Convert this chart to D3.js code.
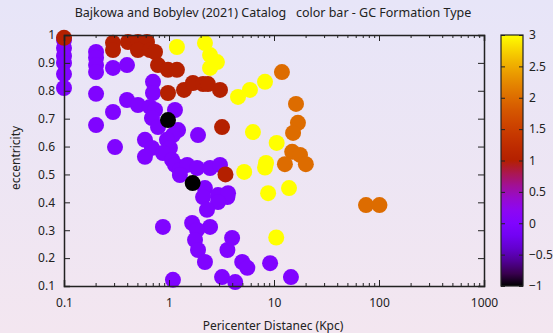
<!DOCTYPE html>
<html>
<head>
<meta charset="utf-8">
<script src="https://cdn.jsdelivr.net/npm/d3@7"></script>
<style>
  body { margin: 0; }
  svg { display: block; font-family: "Noto Sans", sans-serif; }
</style>
</head>
<body>
<div id="chart"></div>
<script>
let width = 553;
let height = 333;
let margin = {top: 35, right: 69, bottom: 47, left: 64};
let radius = 8;

// [pericenter (Kpc), eccentricity] by GC formation type
let type_m1 = [[0.978, 0.695], [1.68, 0.469]];
let type_0 = [
  [0.1, 0.982], [0.1, 0.953], [0.1, 0.925], [0.1, 0.9], [0.1, 0.86], [0.1, 0.81],
  [0.202, 0.939], [0.202, 0.918], [0.202, 0.892], [0.202, 0.867], [0.202, 0.789], [0.202, 0.677],
  [0.293, 0.882], [0.398, 0.892], [0.398, 0.767], [0.506, 0.749], [0.293, 0.724],
  [0.704, 0.832], [0.704, 0.792], [0.658, 0.742], [0.736, 0.731], [1.14, 0.731],
  [0.688, 0.702], [0.786, 0.670], [1.22, 0.659], [1.09, 0.641], [0.956, 0.624],
  [0.59, 0.624], [1.89, 0.641], [0.688, 0.595], [1.02, 0.595], [0.306, 0.598],
  [0.59, 0.563], [0.876, 0.577], [1.07, 0.552], [1.14, 0.534], [1.27, 0.516],
  [1.49, 0.534], [1.85, 0.523], [2.46, 0.523], [3.06, 0.534], [1.27, 0.498],
  [2.2, 0.451], [2.11, 0.419], [2.93, 0.426], [3.6, 0.419], [3.65, 0.433],
  [2.93, 0.401], [2.3, 0.373], [2.46, 0.312], [1.66, 0.326], [1.85, 0.301],
  [1.77, 0.265], [1.89, 0.229], [2.2, 0.186], [0.876, 0.312], [1.09, 0.122],
  [3.2, 0.132], [4.27, 0.114], [3.6, 0.229], [3.99, 0.272], [4.98, 0.186],
  [5.57, 0.165], [9.18, 0.182], [14.5, 0.132]
];
let type_1 = [
  [0.1, 0.99], [0.293, 0.972], [0.293, 0.946], [0.407, 0.975], [0.506, 0.975],
  [0.617, 0.975], [0.506, 0.946], [0.658, 0.946], [0.736, 0.939], [0.786, 0.892],
  [0.978, 0.875], [1.19, 0.875], [0.978, 0.792], [1.39, 0.803], [1.69, 0.828],
  [2.11, 0.824], [2.35, 0.824], [3.06, 0.803], [3.2, 0.67], [3.45, 0.5]
];
let type_2 = [
  [11.9, 0.867], [16.2, 0.753], [16.9, 0.685], [15.2, 0.649], [14.9, 0.581],
  [17.7, 0.57], [12.7, 0.537], [20.1, 0.537], [75.2, 0.39], [101, 0.39]
];
let type_3 = [
  [1.19, 0.957], [2.2, 0.971], [2.46, 0.928], [2.86, 0.903], [2.46, 0.882],
  [4.54, 0.778], [5.9, 0.803], [8.21, 0.832], [6.3, 0.652], [10.6, 0.613],
  [5.2, 0.509], [8.4, 0.541], [8.21, 0.525], [8.79, 0.433], [13.9, 0.451], [10.5, 0.274]
];
let series = [
  {type: 0, points: type_0},
  {type: 1, points: type_1},
  {type: 3, points: type_3},
  {type: 2, points: type_2},
  {type: -1, points: type_m1}
];

let x_ticks = [0.1, 1, 10, 100, 1000];
let y_ticks = [0.1, 0.2, 0.3, 0.4, 0.5, 0.6, 0.7, 0.8, 0.9, 1];
let cb_ticks = [-1, -0.5, 0, 0.5, 1, 1.5, 2, 2.5, 3];

let title = "Bajkowa and Bobylev (2021) Catalog\u00a0\u00a0\u00a0color bar - GC Formation Type";
let x_title = "Pericenter Distanec (Kpc)";
let y_title = "eccentricity";

// gnuplot default palette (rgbformulae 7,5,15)
function palette(t) {
  let r = Math.sqrt(t);
  let g = t * t * t;
  let b = Math.max(0, Math.sin(2 * Math.PI * t));
  return d3.rgb(r * 255, g * 255, b * 255).formatHex();
}

let color = d3.scaleSequential(palette).domain([-1, 3]);

let plot_w = 484 - margin.left;
let plot_h = 286 - margin.top;

let x = d3.scaleLog().domain([0.1, 1000]).range([margin.left, margin.left + plot_w]);
let y = d3.scaleLinear().domain([0.1, 1]).range([margin.top + plot_h, margin.top]);

let svg = d3.select("#chart")
  .append("svg")
  .attr("width", width)
  .attr("height", height);

let defs = svg.append("defs");
let bg = defs.append("linearGradient")
  .attr("id", "bg")
  .attr("x1", 0).attr("y1", 0).attr("x2", 0).attr("y2", 1);
bg.append("stop").attr("offset", "0%").attr("stop-color", "#e7e5f8");
bg.append("stop").attr("offset", "100%").attr("stop-color", "#f3e6f0");

let cb_grad = defs.append("linearGradient")
  .attr("id", "cbgrad")
  .attr("x1", 0).attr("y1", 1).attr("x2", 0).attr("y2", 0);
d3.range(0, 1.0001, 0.05).forEach(function(t) {
  cb_grad.append("stop")
    .attr("offset", (t * 100) + "%")
    .attr("stop-color", palette(t));
});

svg.append("rect")
  .attr("width", width)
  .attr("height", height)
  .attr("fill", "url(#bg)");

// points
svg.append("g")
  .selectAll("g")
  .data(series)
  .enter().append("g")
  .attr("fill", function(d) { return color(d.type); })
  .selectAll("circle")
  .data(function(d) { return d.points; })
  .enter().append("circle")
  .attr("cx", function(d) { return x(d[0]); })
  .attr("cy", function(d) { return y(d[1]); })
  .attr("r", radius);

// axes, ticks inward and mirrored like gnuplot
let axis_color = "#222";
let tick_font = 12;

let axis_bottom = d3.axisBottom(x).tickValues(x_ticks).tickSize(-6).tickPadding(12)
  .tickFormat(d3.format("~g"));
let axis_top = d3.axisTop(x).tickValues(x_ticks).tickSize(-6).tickFormat("");
let axis_left = d3.axisLeft(y).tickValues(y_ticks).tickSize(-6).tickPadding(9)
  .tickFormat(d3.format("~g"));
let axis_right = d3.axisRight(y).tickValues(y_ticks).tickSize(-6).tickFormat("");

let minor = [];
for (let dec = 0.1; dec < 1000; dec *= 10) {
  for (let k = 2; k < 10; k++) minor.push(dec * k);
}

function style_axis(g) {
  g.select(".domain").attr("stroke", axis_color).attr("stroke-width", 1.5);
  g.selectAll(".tick line").attr("stroke", axis_color);
  g.selectAll(".tick text")
    .attr("fill", "#222")
    .style("font-size", tick_font + "px")
    .style("font-family", "Noto Sans, sans-serif");
}

svg.append("g")
  .attr("transform", "translate(0," + (margin.top + plot_h) + ")")
  .call(axis_bottom).call(style_axis);
svg.append("g")
  .attr("transform", "translate(0," + margin.top + ")")
  .call(axis_top).call(style_axis);
svg.append("g")
  .attr("transform", "translate(" + margin.left + ",0)")
  .call(axis_left).call(style_axis);
svg.append("g")
  .attr("transform", "translate(" + (margin.left + plot_w) + ",0)")
  .call(axis_right).call(style_axis);

// minor log ticks
svg.append("g")
  .attr("transform", "translate(0," + (margin.top + plot_h) + ")")
  .call(d3.axisBottom(x).tickValues(minor).tickSize(-3).tickFormat(""))
  .call(style_axis)
  .select(".domain").remove();
svg.append("g")
  .attr("transform", "translate(0," + margin.top + ")")
  .call(d3.axisTop(x).tickValues(minor).tickSize(-3).tickFormat(""))
  .call(style_axis)
  .select(".domain").remove();

// colour bar
let cb_x = 501;
let cb_w = 22;
let cb = d3.scaleLinear().domain([-1, 3]).range([margin.top + plot_h, margin.top]);

svg.append("rect")
  .attr("x", cb_x)
  .attr("y", margin.top)
  .attr("width", cb_w)
  .attr("height", plot_h)
  .attr("fill", "url(#cbgrad)")
  .attr("stroke", "#222")
  .attr("stroke-width", 1.2);

let cb_axis = svg.append("g")
  .attr("transform", "translate(" + (cb_x + cb_w) + ",0)")
  .call(d3.axisRight(cb).tickValues(cb_ticks).tickSize(-4).tickPadding(6)
    .tickFormat(d3.format("~g")))
  .call(style_axis);
cb_axis.select(".domain").remove();
cb_axis.selectAll(".tick text").attr("text-anchor", "start");

svg.append("g")
  .attr("transform", "translate(" + cb_x + ",0)")
  .call(d3.axisLeft(cb).tickValues(cb_ticks).tickSize(-4).tickFormat(""))
  .call(style_axis)
  .select(".domain").remove();

// titles
svg.append("text")
  .attr("x", 273)
  .attr("y", 17)
  .attr("text-anchor", "middle")
  .style("font-size", "12.5px")
  .attr("fill", "#222")
  .text(title);

svg.append("text")
  .attr("x", 273)
  .attr("y", 330)
  .attr("text-anchor", "middle")
  .style("font-size", "12px")
  .attr("fill", "#222")
  .text(x_title);

svg.append("text")
  .attr("transform", "translate(20," + 158 + ") rotate(-90)")
  .attr("text-anchor", "middle")
  .style("font-size", "12px")
  .attr("fill", "#222")
  .text(y_title);
</script>
</body>
</html>
